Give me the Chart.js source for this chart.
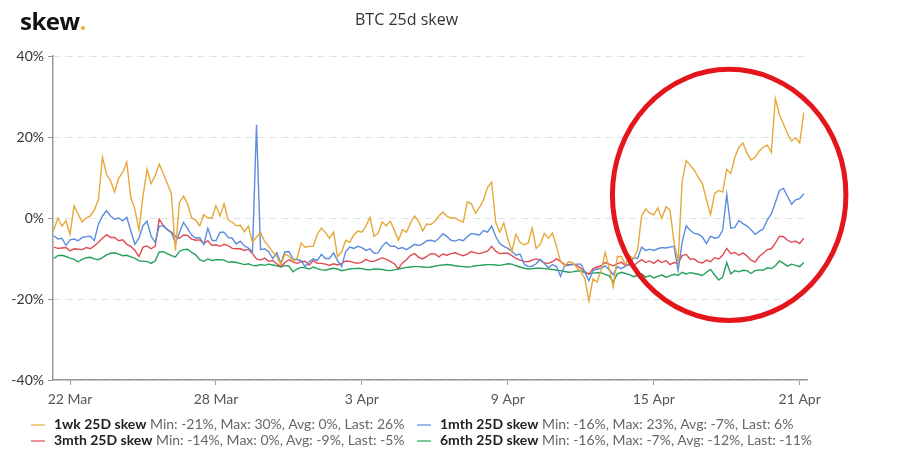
<!DOCTYPE html>
<html>
<head>
<meta charset="utf-8">
<script src="https://cdn.jsdelivr.net/npm/chart.js@4.4.1/dist/chart.umd.min.js"></script>
<style>
  body { margin: 0; background: #fff; }
  #wrap { position: relative; width: 900px; height: 455px; font-family: 'Lato', sans-serif; }
  #logo { position: absolute; left: 20px; top: 4px; font-family: 'Open Sans', sans-serif; font-weight: 700; font-size: 24px; color: #111; letter-spacing: -0.5px; }
  #logo span { color: #e6b23e; }
  #title { position: absolute; left: 355px; top: 8px; font-family: 'Open Sans', sans-serif; font-size: 16px; color: #333; }
  #legend { position: absolute; left: 0; top: 415px; width: 900px; font-size: 14px; }
  .item { position: absolute; white-space: nowrap; color: #666; }
  .item b { color: #222; font-weight: 700; }
  .sw { display: inline-block; width: 14px; height: 2px; vertical-align: middle; margin-right: 9px; }
</style>
</head>
<body>
<div id="wrap">
  <canvas id="skew-chart" width="900" height="455"></canvas>
  <div id="logo">skew<span>.</span></div>
  <div id="title">BTC 25d skew</div>
  <div id="legend"></div>
</div>
<script>
// samples every 4 hours, first one 21 Mar 08:00
const startHour = 8;
const stepHours = 4;

const tickDays = [1, 7, 13, 19, 25, 31];
const tickLabels = ['22 Mar', '28 Mar', '3 Apr', '9 Apr', '15 Apr', '21 Apr'];

const seriesNames = ['1wk 25D skew', '1mth 25D skew', '3mth 25D skew', '6mth 25D skew'];
const seriesStats = [
    'Min: -21%, Max: 30%, Avg: 0%, Last: 26%',
    'Min: -16%, Max: 23%, Avg: -7%, Last: 6%',
    'Min: -14%, Max: 0%, Avg: -9%, Last: -5%',
    'Min: -16%, Max: -7%, Avg: -12%, Last: -11%'
];
const seriesColors = ['#e6a83a', '#5b8ddc', '#e04a52', '#26a05a'];

const oneWeek = [
    -3, 0, -2, -0.7, -4, 3, 1, -1, 0, 0.5,
    2, 4.5, 15, 10.8, 9.2, 6.4, 9.8, 11.3, 13.8, 5,
    2.2, -3, 5.4, 12, 8.5, 10.5, 13.3, 11, 8.5, 6,
    -8, 3.9, 5.4, 3.5, 0, -0.5, -1.9, 0.8, 0, 0,
    3, 0.5, 3.5, -0.5, -1, -1.9, -1.8, -3.4, -2, -6,
    -4.7, -3.6, -5.8, -7, -8.4, -9.5, -11.5, -9, -9.4, -10.8,
    -10, -6.2, -7.2, -7, -7, -4, -2.5, -3.6, -5, -3.5,
    -9.5, -8.4, -5.5, -6, -4.2, -3.2, -3.5, -2, 0.2, -4.5,
    -3.8, -1, -1.9, -0.8, -3, -5.5, -2.9, -3.5, -1.2, 0.5,
    -0.8, -3.2, -1.5, -1.6, -0.8, 0.5, 1.5, 0.4, 0, 0,
    -0.6, -1, 4, 3.5, 1.2, 2.6, 4.5, 7.6, 8.9, -1,
    -3.5, -1.2, -5.2, -8.2, -4, -6, -6.6, -6.2, -2.5, -7.5,
    -6.5, -3.8, -5, -3.7, -7, -10.8, -11.8, -10.8, -11, -12.2,
    -13.2, -15, -20.5, -15, -15.8, -13, -8.5, -12.5, -17, -9.5,
    -9.5, -11.5, -9.3, -10, -8, 0.5, 2.2, 1.2, 0.8, 2.5,
    -0.1, 2.8, 2, -6, -10.8, 9, 14.2, 13, 11.8, 10,
    8.5, 4.5, 0.8, 6, 6.8, 6.4, 12, 11, 15, 17.5,
    18.5, 16, 14.3, 15, 16.5, 17.5, 18, 16.2, 29.5, 25.5,
    23.2, 20.8, 19, 19.8, 18.5, 26
];

const oneMonth = [
    -4.4, -5.2, -5, -6.8, -5.4, -5.2, -5.6, -4.8, -4.6, -4.5,
    -5.6, -1.5, 0.5, 1.8, 0.5, -0.3, 0, -0.7, 0.2, -3.2,
    -6.5, -5, -1.9, -0.8, -4.5, -6, -2, -2, -2.8, -3.6,
    -6.2, -3.6, -1.1, -2.6, -4.2, -5, -4.8, -6.5, -2.5, -5.5,
    -5.6, -3.5, -3.5, -4.8, -5, -6.4, -5.7, -6.9, -7.4, -8.4,
    23, -7.8, -7.6, -8.3, -10, -8.6, -11.2, -8.4, -8.3, -10.1,
    -10.3, -10.5, -12, -10.8, -10.1, -10.5, -9, -10, -10, -8.6,
    -10.5, -12, -8.3, -7.2, -7.5, -7, -7.3, -8, -7.6, -8.7,
    -8.6, -7, -6, -7, -6.9, -7.6, -7.3, -7.8, -7.2, -6.5,
    -6.8, -6.4, -5.6, -5.5, -5.8, -5, -3.9, -4.6, -5.5, -5.7,
    -5.3, -5.6, -4.6, -3.8, -4, -4.2, -3.1, -3.5, -2, -4.5,
    -6.3, -7, -7.5, -8.2, -9.2, -8.9, -11.3, -12, -11.9, -11.3,
    -10.2, -11.2, -12.3, -11.5, -12, -14.4, -11.8, -11.7, -11.5, -11.4,
    -11.4, -13.3, -15.5, -13, -12.6, -12.4, -11.8, -12.8, -14, -12,
    -12.5, -11.9, -11.4, -9.8, -10, -7.2, -8, -7.7, -8, -7.6,
    -7.3, -7.4, -7.2, -7, -13, -6, -1.9, -3.1, -3.8, -4,
    -4.7, -6.3, -4.5, -5, -4.8, -3, 5.8, -2.5, -2.3, -0.6,
    -1.4, -2, -2.9, -4, -3.3, -2.7, -0.5, 1, 3.8, 6.8,
    7.3, 5.3, 3.4, 4.5, 4.8, 6
];

const threeMonth = [
    -7.2, -7.5, -7.4, -7.3, -8.1, -7.6, -7.7, -7.8, -7.3, -7.6,
    -6.9, -6, -5, -4.1, -4.8, -4.8, -5.6, -5.4, -6.5, -7,
    -8, -9.5, -7.2, -6.9, -7.6, -7, -0.3, -1.8, -2.9, -3.5,
    -4.5, -5, -4.2, -4.3, -5.2, -5.5, -5.4, -6.3, -5.6, -6.8,
    -6.6, -7, -6.5, -6.8, -7.5, -7.6, -7.6, -8, -7.7, -8.8,
    -10.1, -10.4, -9.9, -10.7, -10.5, -11.3, -12, -11, -10.3, -10.9,
    -11.2, -10.8, -10.7, -11.6, -10.5, -11.2, -11.2, -11.4, -11.7, -11.3,
    -11.6, -11.2, -10.6, -10.7, -11, -11.2, -10.9, -10.2, -10.7, -10.7,
    -10.3, -9.8, -10.2, -10.7, -11.3, -12.5, -11.1, -10.3, -9.2, -8.8,
    -9.7, -10.1, -9.5, -8.8, -8.9, -9.6, -8.9, -9.2, -8.8, -8.6,
    -9, -9.3, -8.9, -8.3, -8.6, -8.8, -8.5, -8.2, -7, -8.2,
    -8.8, -8.7, -8.7, -9.3, -10, -10.4, -10.7, -10.8, -10.4, -10.1,
    -10.4, -11.1, -11.2, -10.8, -10.1, -10.7, -11.5, -11.5, -11.4, -11.7,
    -12.4, -13.2, -13.9, -12.5, -12.1, -11.8, -11, -11.4, -11.8, -11.3,
    -10.9, -11.7, -11.5, -11.8, -11, -10.3, -11, -10.6, -11.2, -10.4,
    -11, -10.5, -11.5, -11, -11.2, -9.3, -9, -10.2, -10.1, -10.9,
    -11.1, -10.4, -10.8, -9.8, -10.1, -9.2, -7.5, -8.8, -8.5, -9.2,
    -8.6, -9.4, -10.4, -10.9, -9.5, -8.7, -7.8, -7.6, -6.2, -4.5,
    -4.6, -5.5, -6, -5.7, -6.3, -5
];

const sixMonth = [
    -10, -9.3, -9.2, -9.5, -9.9, -10.2, -10.8, -10.2, -9.8, -9.7,
    -10.1, -10.3, -9.8, -9.1, -8.7, -8.6, -8.9, -9.3, -9.2, -9.6,
    -9.9, -10.6, -10.7, -10.7, -11.2, -10.6, -8.4, -8.3, -8.8, -9.3,
    -9.6, -8.2, -7.8, -7.7, -8.5, -9.1, -10.3, -10.7, -10.1, -10.5,
    -10.3, -10.3, -10.4, -10.9, -10.8, -11, -11.2, -11.5, -11.3, -11.7,
    -11.8, -11.5, -11.7, -11.4, -11.6, -11.8, -12.1, -11.7, -11.9, -13.3,
    -12.6, -12.2, -12.3, -12.6, -12.1, -12.5, -12.8, -12.9, -12.6, -12.4,
    -12.6, -13, -12.8, -12.6, -12.5, -12.4, -12.5, -12.7, -12.8, -12.6,
    -12.6, -12.7, -12.9, -13, -12.8, -12.6, -12.4, -12.2, -12.1, -12,
    -12, -12.1, -12.2, -12.1, -11.9, -11.7, -11.6, -11.5, -11.6, -11.8,
    -11.9, -12, -12.1, -12, -11.8, -11.7, -11.6, -11.5, -11.5, -11.6,
    -11.7, -11.5, -11.3, -11.4, -11.8, -12.1, -12.4, -12.6, -12.5, -12.4,
    -12.4, -12.5, -12.6, -12.7, -12.9, -13, -13.2, -13.4, -13.3, -13.1,
    -13.1, -13.5, -13.8, -13.6, -13.5, -13.5, -13.9, -14.3, -15.8, -13.8,
    -13.4, -13.7, -14, -14.5, -14.2, -13.8, -14.6, -14.2, -14.8, -14.4,
    -14.1, -14.6, -14.3, -13.9, -14.2, -13.4, -13.8, -13.5, -13.7, -13.9,
    -14.2, -13.4, -12.7, -14, -15.3, -14.6, -11, -13.8, -13, -13.3,
    -12.9, -13, -13.7, -13, -12.8, -12.9, -12.3, -12.5, -11.8, -10.6,
    -11.2, -11.9, -11.4, -11.7, -12, -11
];

const allSeries = [oneWeek, oneMonth, threeMonth, sixMonth];

// red ring drawn over the last week, in axis units (days, %)
const ring = { day: 28.1, value: 5.7, halfDays: 4.8, halfValue: 31 };

// day number counted from 21 Mar 00:00
function dayOf(i) {
    return (startHour + i * stepHours) / 24;
}

function toPoints(values) {
    return values.map((v, i) => ({ x: dayOf(i), y: v }));
}

const ringPlugin = {
    id: 'ring',
    afterDatasetsDraw(chart) {
        const { ctx, scales: { x, y } } = chart;
        const cx = x.getPixelForValue(ring.day);
        const cy = y.getPixelForValue(ring.value);
        const rx = x.getPixelForValue(ring.day + ring.halfDays) - cx;
        const ry = cy - y.getPixelForValue(ring.value + ring.halfValue);
        ctx.save();
        ctx.strokeStyle = '#e4161c';
        ctx.lineWidth = 5;
        ctx.beginPath();
        ctx.ellipse(cx, cy, rx, ry, 0, 0, Math.PI * 2);
        ctx.stroke();
        ctx.restore();
    }
};

function buildLegend() {
    const legend = document.getElementById('legend');
    const cols = [31, 417];
    seriesNames.forEach((name, k) => {
        const div = document.createElement('div');
        div.className = 'item';
        div.style.left = cols[k % 2] + 'px';
        div.style.top = (Math.floor(k / 2) * 16) + 'px';
        const sw = document.createElement('span');
        sw.className = 'sw';
        sw.style.background = seriesColors[k];
        sw.style.opacity = 0.6;
        const b = document.createElement('b');
        b.textContent = name;
        div.appendChild(sw);
        div.appendChild(b);
        div.appendChild(document.createTextNode(' ' + seriesStats[k]));
        legend.appendChild(div);
    });
}

function createChart() {
    const ctx = document.getElementById('skew-chart').getContext('2d');

    const datasets = allSeries.map((values, k) => ({
        label: seriesNames[k],
        data: toPoints(values),
        borderColor: seriesColors[k],
        borderWidth: 1.4,
        pointRadius: 0,
        tension: 0,
        fill: false
    }));

    new Chart(ctx, {
        type: 'line',
        data: { datasets: datasets },
        plugins: [ringPlugin],
        options: {
            responsive: false,
            animation: false,
            devicePixelRatio: 1,
            layout: { padding: { top: 56, left: 0, right: 93, bottom: 45 } },
            plugins: {
                legend: { display: false },
                title: { display: false },
                tooltip: { enabled: false }
            },
            scales: {
                x: {
                    type: 'linear',
                    min: 0.3,
                    max: 31.3,
                    afterFit: (scale) => { scale.height = 30; },
                    afterBuildTicks: (scale) => {
                        scale.ticks = tickDays.map(d => ({ value: d }));
                    },
                    ticks: {
                        autoSkip: false,
                        maxRotation: 0,
                        padding: 6,
                        color: '#555',
                        font: { family: 'Lato', size: 14 },
                        callback: (value) => tickLabels[tickDays.indexOf(value)]
                    },
                    grid: {
                        drawOnChartArea: false,
                        drawTicks: true,
                        tickLength: 5,
                        tickColor: '#999'
                    },
                    border: { color: '#999', width: 1.5 }
                },
                y: {
                    min: -40,
                    max: 40,
                    afterFit: (scale) => { scale.width = 53; },
                    ticks: {
                        stepSize: 20,
                        padding: 4,
                        color: '#333',
                        font: { family: 'Lato', size: 14 },
                        callback: (value) => value + '%'
                    },
                    grid: {
                        color: '#e2e2e2',
                        tickLength: 5,
                        tickColor: '#999'
                    },
                    border: { color: '#999', width: 1.5, dash: [7, 5] }
                }
            }
        }
    });
}

document.addEventListener('DOMContentLoaded', function() {
    buildLegend();
    createChart();
});
</script>
</body>
</html>
